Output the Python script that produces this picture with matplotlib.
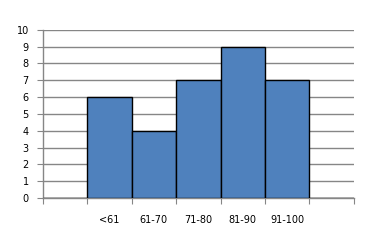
import matplotlib.pyplot as plt
import numpy as np

categories = ["", "<61", "61-70", "71-80", "81-90", "91-100", ""]
counts = [0, 6, 4, 7, 9, 7, 0]

fig = plt.figure(figsize=(3.75, 2.43), dpi=100)
ax = fig.add_axes([0.1139, 0.1852, 0.8300, 0.6926])

grid_c = "#868686"
x = np.arange(len(categories))
ax.bar(x, counts, width=1.0, color="#4F81BD", edgecolor="black", linewidth=1.0, zorder=3)

ax.set_xlim(-0.5, len(categories) - 0.5)
ax.set_ylim(0, 10)
ax.set_yticks(range(0, 11))
ax.yaxis.grid(True, color=grid_c, linewidth=1.0, zorder=0)
ax.set_axisbelow(True)

# ticks at slot boundaries, labels in the middle of each slot
ax.set_xticks(np.arange(-0.5, len(categories)), minor=False)
ax.set_xticklabels([])
ax.set_xticks(x, minor=True)
ax.set_xticklabels(categories, minor=True, fontsize=7)
ax.tick_params(axis="x", which="minor", length=0, pad=12)
ax.tick_params(axis="x", which="major", length=4, color=grid_c, direction="out")
ax.tick_params(axis="y", length=4, color=grid_c, direction="out", labelsize=7, pad=6)

for s in ["top", "right"]:
    ax.spines[s].set_visible(False)
for s in ["left", "bottom"]:
    ax.spines[s].set_color(grid_c)
    ax.spines[s].set_linewidth(1.0)

fig.savefig("out.png", dpi=100)
